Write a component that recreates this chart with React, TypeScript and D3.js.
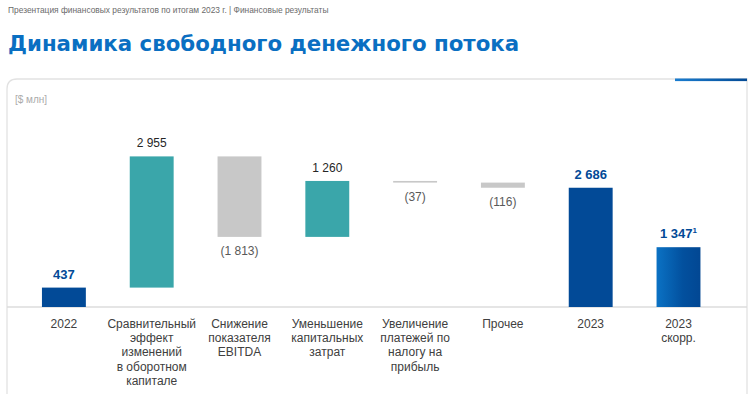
import React from "react";
import * as d3 from "d3";

const categories: string[][] = [
  ["2022"],
  ["Сравнительный", "эффект", "изменений", "в оборотном", "капитале"],
  ["Снижение", "показателя", "EBITDA"],
  ["Уменьшение", "капитальных", "затрат"],
  ["Увеличение", "платежей по", "налогу на", "прибыль"],
  ["Прочее"],
  ["2023"],
  ["2023", "скорр."],
];
const values: number[] = [437, 2955, -1813, 1260, -37, -116, 2686, 1347];
const kinds: string[] = ["total", "delta", "delta", "delta", "delta", "delta", "total", "adjusted"];
const valueLabels: string[] = ["437", "2 955", "(1 813)", "1 260", "(37)", "(116)", "2 686", "1 347"];
const footnoteMarks: string[] = ["", "", "", "", "", "", "", "1"];

const title = "Динамика свободного денежного потока";
const subtitle = "Презентация финансовых результатов по итогам 2023 г. | Финансовые результаты";
const unitLabel = "[$ млн]";

const W = 756;
const H = 394;
const baseY = 307;

export default function App() {
  // waterfall segments
  let running = 0;
  const segs = values.map((v, i) => {
    const k = kinds[i];
    let y0: number, y1: number;
    if (k === "delta") {
      y0 = running;
      y1 = running + v;
      running = y1;
    } else {
      y0 = 0;
      y1 = v;
      if (k === "total") running = v;
    }
    return { i, v, k, lo: Math.min(y0, y1), hi: Math.max(y0, y1) };
  });
  const maxV = d3.max(segs, (s) => s.hi) as number;

  const x = d3
    .scaleBand<number>()
    .domain(values.map((_, i) => i))
    .range([20, 722.4])
    .paddingInner(0.5)
    .paddingOuter(0.25);
  const y = d3.scaleLinear().domain([0, maxV]).range([baseY, 156.4]);

  const blue = "#024A97";
  const teal = "#3AA6AA";
  const grey = "#C8C8C8";
  const font = "'Liberation Sans', Arial, sans-serif";

  return (
    <svg
      width={W}
      height={H}
      style={{ position: "absolute", left: 0, top: 0, background: "#fff" }}
    >
      <defs>
        <linearGradient id="adjGrad" x1="0" x2="1" y1="0" y2="0">
          <stop offset="0" stopColor="#0B72C4" />
          <stop offset="0.6" stopColor="#02509E" />
          <stop offset="1" stopColor="#024793" />
        </linearGradient>
        <linearGradient id="accGrad" x1="0" x2="1" y1="0" y2="0">
          <stop offset="0" stopColor="#1A7DD0" />
          <stop offset="1" stopColor="#034A95" />
        </linearGradient>
      </defs>

      <text x={8} y={13} fontFamily={font} fontSize={8.4} fill="#6b6b6b">
        {subtitle}
      </text>
      <text x={8} y={51} fontFamily="'DejaVu Sans', Verdana, sans-serif" fontWeight="bold" fontSize={21.3} fill="#0A6FC2">
        {title}
      </text>

      {/* panel */}
      <path d="M7,394 V89 Q7,79 17,79 H747 V394" fill="none" stroke="#E2E2E2" strokeWidth={1.3} />
      <rect x={675} y={78.5} width={72} height={2.6} fill="url(#accGrad)" />
      <text x={15} y={103} fontFamily={font} fontSize={10} fill="#ABABAB">
        {unitLabel}
      </text>

      {/* baseline */}
      <line x1={7} x2={747} y1={baseY} y2={baseY} stroke="#DCDCDC" strokeWidth={1.5} />

      {segs.map((s) => {
        const bx = x(s.i) as number;
        const bw = x.bandwidth();
        const top = y(s.hi);
        const bottom = y(s.lo);
        const fill =
          s.k === "total" ? blue : s.k === "adjusted" ? "url(#adjGrad)" : s.v >= 0 ? teal : grey;
        const cx = bx + bw / 2;
        const isTotal = s.k !== "delta";
        const neg = s.v < 0;
        return (
          <g key={s.i}>
            <rect x={bx} y={top} width={bw} height={Math.max(bottom - top, 1.5)} fill={fill} />
            <text
              x={cx}
              y={neg ? bottom + 18 : top - 9}
              textAnchor="middle"
              fontFamily={font}
              fontSize={isTotal ? 13 : 12}
              fontWeight={isTotal ? "bold" : "normal"}
              fill={isTotal ? blue : neg ? "#595959" : "#262626"}
            >
              {valueLabels[s.i]}
              {footnoteMarks[s.i] ? (
                <tspan dy={-5} fontSize={8}>
                  {footnoteMarks[s.i]}
                </tspan>
              ) : null}
            </text>
            <text textAnchor="middle" fontFamily={font} fontSize={12} fill="#404040">
              {categories[s.i].map((line, j) => (
                <tspan key={j} x={cx} y={327.5 + j * 14.4}>
                  {line}
                </tspan>
              ))}
            </text>
          </g>
        );
      })}
    </svg>
  );
}
